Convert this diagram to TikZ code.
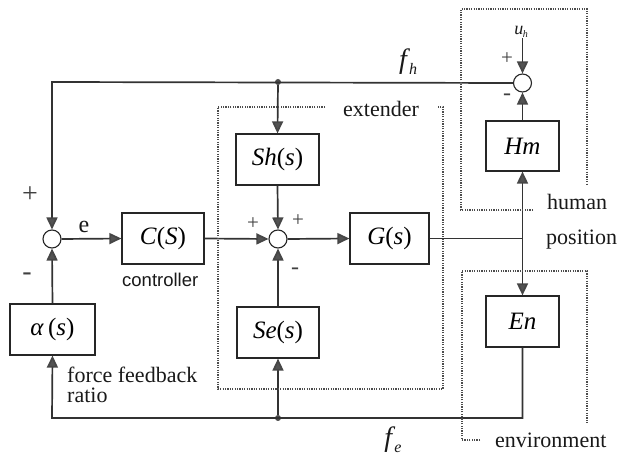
\documentclass[tikz,border=0pt]{standalone}
\usepackage{fontspec}
\setmainfont{Liberation Serif}
\newfontfamily\arialf{Liberation Sans}
\usetikzlibrary{arrows.meta}
\tikzset{
  blk/.style={draw=black!85, line width=1.2pt, minimum height=51pt, inner sep=0pt, font=\fontsize{25}{27}\selectfont},
  sumj/.style={circle, draw=black!85, line width=1.1pt, minimum size=18pt, inner sep=0pt},
  wire/.style={draw=black!80, line width=1.7pt},
  arr/.style={wire, -{Triangle[length=12pt,width=11pt,fill=gray!65!black,color=gray!55!black]}},
  dbox/.style={draw=black!70, line width=1.2pt, dash pattern=on 1.2pt off 1.2pt},
  lbl/.style={font=\fontsize{22}{24}\selectfont, text=black!90, inner sep=0pt},
  sgn/.style={font=\fontsize{28}{30}\selectfont, text=gray!50!black, inner sep=0pt},
  dotj/.style={circle, fill=gray!60!black, inner sep=0pt, minimum size=6pt}
}
\begin{document}
\begin{tikzpicture}[x=1pt,y=-1pt]
\useasboundingbox (0,0) rectangle (622,462);
\fill[white] (0,0) rectangle (622,462);
% blocks
\node[blk, minimum width=85pt] (alpha) at (52.5,329.5) {\textit{α}\,(\textit{s})};
\node[blk, minimum width=82pt] (C) at (163,238.5) {\textit{C}(\textit{S})};
\node[blk, minimum width=83pt] (Sh) at (277.5,159.5) {\textit{Sh}(\textit{s})};
\node[blk, minimum width=82pt] (Se) at (278,332.5) {\textit{Se}(\textit{s})};
\node[blk, minimum width=79pt] (G) at (389.5,238.5) {\textit{G}(\textit{s})};
\node[blk, minimum width=73pt, minimum height=50pt] (Hm) at (522.5,146) {\textit{Hm}};
\node[blk, minimum width=73pt] (En) at (522.5,321.5) {\textit{En}};
% summing junctions
\node[sumj] (s1) at (52,239) {};
\node[sumj] (s2) at (278,239) {};
\node[sumj] (s3) at (522.5,83) {};
% coordinates
\coordinate (tl) at (52,82);
\node[dotj] (topdot) at (278,82) {};
\node[dotj] (botdot) at (278,418) {};
\coordinate (jn) at (522.5,238.5);
\coordinate (br) at (522.5,418);
\coordinate (bl) at (52,418);
\coordinate (uh) at (522.5,38);
% wires
\draw[arr] (s3.west) -- (tl) -- (s1.north);
\draw[arr] (topdot) -- (Sh.north);
\draw[arr] (s1.east) -- (C.west);
\draw[arr] (C.east) -- (s2.west);
\draw[arr] (Sh.south) -- (s2.north);
\draw[arr] (Se.north) -- (s2.south);
\draw[arr] (s2.east) -- (G.west);
\draw[wire] (G.east) -- (jn);
\draw[arr] (jn) -- (Hm.south);
\draw[arr] (jn) -- (En.north);
\draw[arr] (Hm.north) -- (s3.south);
\draw[arr] (uh) -- (s3.north);
\draw[arr] (En.south) -- (br) -- (bl) -- (alpha.south);
\draw[arr] (botdot) -- (Se.south);
\draw[arr] (alpha.north) -- (s1.south);
% dashed boxes
\draw[dbox] (325,107) -- (218,107) -- (218,389) -- (443,389) -- (443,107) -- (437,107);
\draw[dbox] (533,210) -- (461,210) -- (461,9) -- (587,9) -- (587,185);
\draw[dbox] (480,440) -- (462,440) -- (462,271) -- (587,271) -- (587,423);
% labels
\node[lbl, anchor=base] (ext) at (381,117) {extender};
\node[lbl, anchor=base west] (hum) at (547,210) {human};
\node[lbl, anchor=base west] (pos) at (546,245) {position};
\node[lbl, anchor=base west] (env) at (495,448) {environment};
\node[lbl, anchor=base west] (ffb) at (67,383) {force feedback};
\node[lbl, anchor=base west] (rat) at (67,403) {ratio};
\node[lbl, anchor=base west, font=\arialf\fontsize{18.5}{20}\selectfont] (ctl) at (122,287) {controller};
\node[lbl, font=\fontsize{24}{26}\selectfont] (e) at (84,227) {e};
\node[lbl, font=\fontsize{28}{30}\selectfont] (fh) at (408,62) {\textit{f}\kern-1pt\raisebox{-6pt}{\fontsize{16}{17}\selectfont\textit{h}}};
\node[lbl, font=\fontsize{28}{30}\selectfont] (fe) at (393,440) {\textit{f}\kern-1pt\raisebox{-6pt}{\fontsize{16}{17}\selectfont\textit{e}}};
\node[lbl, font=\fontsize{18}{20}\selectfont] (uhl) at (521,32) {\textit{u}\kern-0.5pt\raisebox{-3pt}{\fontsize{10}{11}\selectfont\textit{h}}};
% signs
\node[sgn] at (30,195) {+};
\node[sgn] at (27,277) {-};
\node[sgn, font=\fontsize{21}{23}\selectfont] at (253,224) {+};
\node[sgn, font=\fontsize{21}{23}\selectfont] at (298,221) {+};
\node[sgn, font=\fontsize{24}{26}\selectfont] at (295,271) {-};
\node[sgn, font=\fontsize{21}{23}\selectfont] at (507,59) {+};
\node[sgn, font=\fontsize{24}{26}\selectfont] at (507,97) {-};
\end{tikzpicture}
\end{document}
